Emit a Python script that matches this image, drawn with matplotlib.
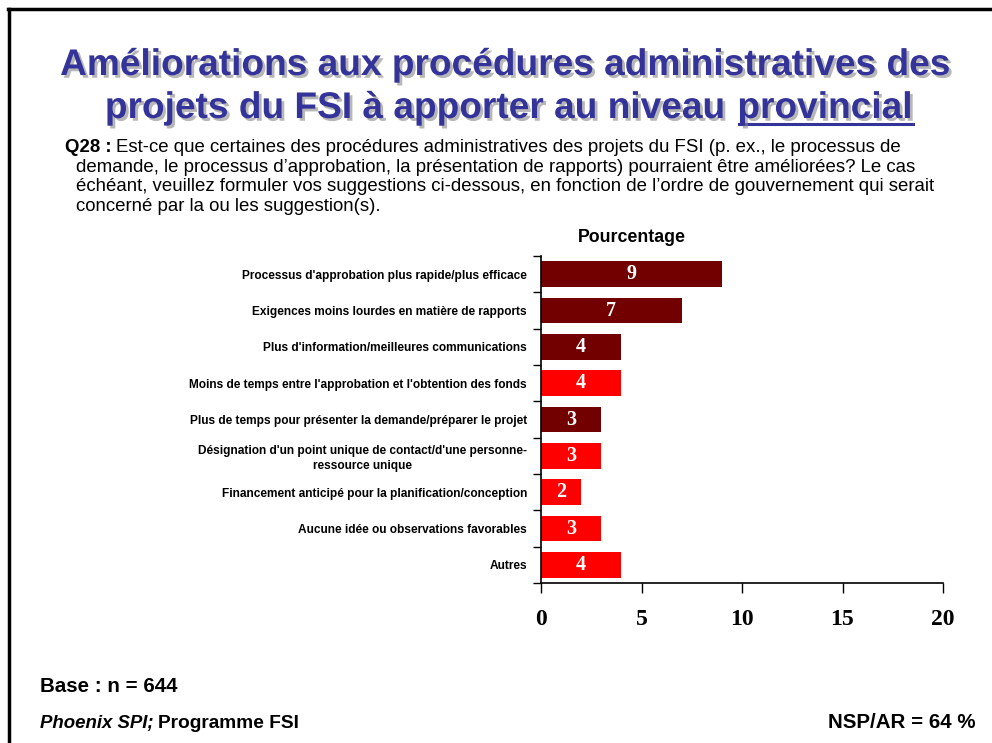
import matplotlib
matplotlib.use("Agg")
import matplotlib.pyplot as plt
import matplotlib.patheffects as pe
from matplotlib.lines import Line2D
import numpy as np

categories = [
    "Processus d'approbation plus rapide/plus efficace",
    "Exigences moins lourdes en matière de rapports",
    "Plus d'information/meilleures communications",
    "Moins de temps entre l'approbation et l'obtention des fonds",
    "Plus de temps pour présenter la demande/préparer le projet",
    "Désignation d'un point unique de contact/d'une personne-\nressource unique",
    "Financement anticipé pour la planification/conception",
    "Aucune idée ou observations favorables",
    "Autres",
]
values = [9, 7, 4, 4, 3, 3, 2, 3, 4]
bar_colors = ["#720000", "#720000", "#720000", "#FF0000", "#720000",
              "#FF0000", "#FF0000", "#FF0000", "#FF0000"]
xticks = [0, 5, 10, 15, 20]

W, H = 992, 743
fig = plt.figure(figsize=(W / 100, H / 100), dpi=100)

def fx(px):
    return px / W

def fy(py):
    return 1 - py / H

sans = ["Liberation Sans", "DejaVu Sans"]
serif = ["Liberation Serif", "DejaVu Serif"]

# border
fig.add_artist(Line2D([fx(8), 1.0], [fy(9), fy(9)], color="black", lw=2.5))
fig.add_artist(Line2D([fx(8.5), fx(8.5)], [fy(9), 0.0], color="black", lw=2.5))

# title
title_color = "#333399"
shadow = [pe.withSimplePatchShadow(offset=(2, -2), shadow_rgbFace="#888888", alpha=0.6)]
tsize = 26.7
fig.text(fx(506), fy(75), "Améliorations aux procédures administratives des",
         ha="center", va="baseline", fontsize=tsize, fontweight="bold",
         family=sans, color=title_color, path_effects=shadow)

renderer = fig.canvas.get_renderer()
p1 = "projets du FSI à apporter au niveau "
p2 = "provincial"
t1 = fig.text(0, fy(118), p1, ha="left", va="baseline", fontsize=tsize,
              fontweight="bold", family=sans, color=title_color, path_effects=shadow)
t2 = fig.text(0, fy(118), p2, ha="left", va="baseline", fontsize=tsize,
              fontweight="bold", family=sans, color=title_color, path_effects=shadow)
w1 = t1.get_window_extent(renderer).width
w2 = t2.get_window_extent(renderer).width
tot = w1 + w2
start = 509 - tot / 2
t1.set_x(fx(start))
t2.set_x(fx(start + w1))
fig.add_artist(Line2D([fx(start + w1 + 2), fx(start + w1 + w2)], [fy(124), fy(124)],
                      color=title_color, lw=2.2, path_effects=shadow))

# question text
qsize = 13.4
tq = fig.text(fx(65), fy(147), "Q28 :", ha="left", va="center", fontsize=qsize,
              fontweight="bold", family=sans)
wq = tq.get_window_extent(renderer).width
fig.text(fx(65) + (wq + 4) / W, fy(147),
         "Est-ce que certaines des procédures administratives des projets du FSI (p. ex., le processus de",
         ha="left", va="center", fontsize=qsize, family=sans)
qlines = [
    "demande, le processus d’approbation, la présentation de rapports) pourraient être améliorées? Le cas",
    "échéant, veuillez formuler vos suggestions ci-dessous, en fonction de l’ordre de gouvernement qui serait",
    "concerné par la ou les suggestion(s).",
]
for i, ln in enumerate(qlines):
    fig.text(fx(76), fy(167 + i * 19.7), ln, ha="left", va="center", fontsize=qsize, family=sans)

# chart
ax = fig.add_axes([fx(541), fy(583), fx(943) - fx(541), fy(256) - fy(583)])
n = len(categories)
y = np.arange(n)
ax.barh(y, values, height=0.7, color=bar_colors, zorder=2)
ax.set_ylim(n - 0.5, -0.5)
ax.set_xlim(0, 20)
ax.set_yticks(y)
ax.set_yticklabels(categories, fontsize=8.6, fontweight="bold", family=sans,
                   linespacing=1.25, multialignment="center")
ax.tick_params(axis="y", length=0, pad=10)
ax.set_yticks(np.arange(-0.5, n, 1.0), minor=True)
ax.tick_params(axis="y", which="minor", length=6, width=1, direction="out")
ax.set_xticks(xticks)
ax.set_xticklabels([str(t) for t in xticks], fontsize=17, fontweight="bold", family=serif)
ax.tick_params(axis="x", length=7, width=1, direction="out", pad=12)
for s in ["top", "right"]:
    ax.spines[s].set_visible(False)
ax.spines["left"].set_linewidth(1.2)
ax.spines["bottom"].set_linewidth(1.2)

for yi, v in zip(y, values):
    ax.text(v / 2, yi, str(v), ha="center", va="center", color="white",
            fontsize=14.5, fontweight="bold", family=serif, zorder=3)

fig.text(fx(632), fy(237), "Pourcentage", ha="center", va="center",
         fontsize=12.8, fontweight="bold", family=sans)

# footer
fsize = 14.2
fig.text(fx(40), fy(692), "Base : n = 644", ha="left", va="baseline",
         fontsize=fsize + 0.6, fontweight="bold", family=sans)
tp = fig.text(fx(40), fy(728), "Phoenix SPI;", ha="left", va="baseline",
              fontsize=fsize - 0.8, fontweight="bold", style="italic", family=sans)
wp = tp.get_window_extent(renderer).width
fig.text(fx(40) + (wp + 4) / W, fy(728), "Programme FSI", ha="left", va="baseline",
         fontsize=fsize - 0.4, fontweight="bold", family=sans)
fig.text(fx(976), fy(728), "NSP/AR = 64 %", ha="right", va="baseline",
         fontsize=fsize + 0.6, fontweight="bold", family=sans)

fig.savefig("out.png", dpi=100)
